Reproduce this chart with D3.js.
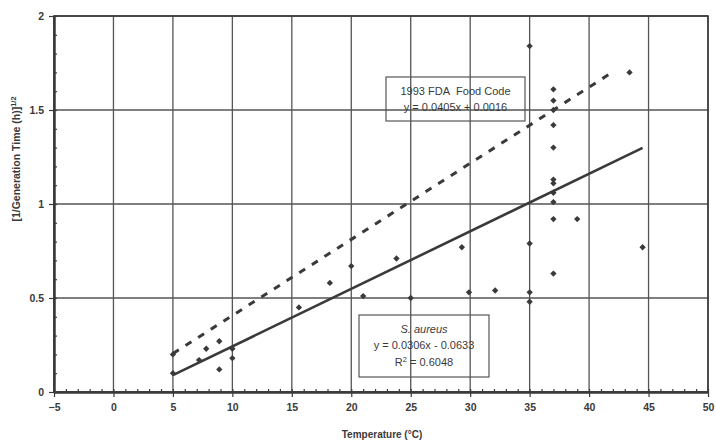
<!DOCTYPE html>
<html>
<head>
<meta charset="utf-8">
<script src="https://cdn.jsdelivr.net/npm/d3@7"></script>
<style>
  html, body { margin: 0; padding: 0; background: #fff; }
  svg { display: block; font-family: "Liberation Sans", Arial, sans-serif; }
</style>
</head>
<body>
<svg id="chart" width="716" height="442"></svg>
<script>
// Growth-rate observations: temperature (°C) vs square root of 1/generation time
const tempC = [5, 5, 7.2, 7.8, 8.9, 8.9, 10, 10, 15.6, 18.2, 20, 21, 23.8, 25, 29.3, 29.9, 32.1,
  35, 35, 35, 35, 37, 37, 37, 37, 37, 37, 37, 37, 37, 37, 37, 39, 43.4, 44.5];
const sqrtRate = [0.20, 0.10, 0.17, 0.23, 0.27, 0.12, 0.23, 0.18, 0.45, 0.58, 0.67, 0.51, 0.71, 0.50, 0.77, 0.53, 0.54,
  1.84, 0.79, 0.53, 0.48, 1.61, 1.55, 1.50, 1.42, 1.30, 1.13, 1.11, 1.06, 1.01, 0.92, 0.63, 0.92, 1.70, 0.77];

// Fitted lines (slope, intercept, x extent)
const fdaFit = { slope: 0.0405, intercept: 0.0016, from: 5, to: 42 };
const aureusFit = { slope: 0.0306, intercept: -0.0633, from: 5, to: 44.5 };

const xTicks = [-5, 0, 5, 10, 15, 20, 25, 30, 35, 40, 45, 50];
const yTicks = [0, 0.5, 1, 1.5, 2];

const svg = d3.select("#chart");
const ink = "#3a3a3a";
const x = d3.scaleLinear().domain([-5, 50]).range([54, 708]);
const y = d3.scaleLinear().domain([0, 2]).range([392, 16]);

// Grid
const grid = svg.append("g").attr("stroke", "#555").attr("stroke-width", 1.3);
grid.selectAll("line.v").data(xTicks).join("line")
  .attr("x1", d => x(d)).attr("x2", d => x(d)).attr("y1", y(0)).attr("y2", y(2));
grid.selectAll("line.h").data(yTicks).join("line")
  .attr("x1", x(-5)).attr("x2", x(50)).attr("y1", d => y(d)).attr("y2", d => y(d));

// Axes: major ticks outside, minor ticks inside
const xAxis = svg.append("g").attr("transform", `translate(0,${y(0)})`)
  .call(d3.axisBottom(x).tickValues(xTicks).tickSize(5).tickSizeOuter(0).tickPadding(7).tickFormat(d3.format("d")));
const xMinor = svg.append("g").attr("transform", `translate(0,${y(0)})`)
  .call(d3.axisTop(x).tickValues(d3.range(-5, 51, 1)).tickSize(3).tickSizeOuter(0).tickFormat(""));
const yAxis = svg.append("g").attr("transform", `translate(${x(-5)},0)`)
  .call(d3.axisLeft(y).tickValues(yTicks).tickSize(5).tickSizeOuter(0).tickPadding(5).tickFormat(d => d3.format("")(d)));
const yMinor = svg.append("g").attr("transform", `translate(${x(-5)},0)`)
  .call(d3.axisRight(y).tickValues(d3.range(0, 2.01, 0.1)).tickSize(3).tickSizeOuter(0).tickFormat(""));

[xAxis, xMinor, yAxis, yMinor].forEach(g => {
  g.select(".domain").attr("stroke", ink).attr("stroke-width", 2);
  g.selectAll(".tick line").attr("stroke", ink).attr("stroke-width", 1.2);
  g.selectAll(".tick text").attr("fill", ink).attr("font-size", 10.5).attr("font-weight", "bold")
    .attr("font-family", "'Liberation Sans', Arial, sans-serif");
});

// Plot frame (top and right)
svg.append("rect").attr("x", x(-5)).attr("y", y(2)).attr("width", x(50) - x(-5)).attr("height", y(0) - y(2))
  .attr("fill", "none").attr("stroke", ink).attr("stroke-width", 1.6);

// Regression lines
const fitLine = f => d3.line().x(d => x(d)).y(d => y(f.slope * d + f.intercept))([f.from, f.to]);
svg.append("path").attr("d", fitLine(fdaFit)).attr("fill", "none").attr("stroke", ink)
  .attr("stroke-width", 3).attr("stroke-dasharray", "7,8");
svg.append("path").attr("d", fitLine(aureusFit)).attr("fill", "none").attr("stroke", ink)
  .attr("stroke-width", 2.6);

// Observations as square diamonds
const marker = d3.symbol().type(d3.symbolSquare).size(20);
svg.append("g").selectAll("path").data(tempC).join("path")
  .attr("d", marker)
  .attr("transform", (d, i) => `translate(${x(d)},${y(sqrtRate[i])}) rotate(45)`)
  .attr("fill", ink);

// Equation boxes (transparent, grid shows through)
function eqBox(bx, by, bw, bh, lines) {
  svg.append("rect").attr("x", bx).attr("y", by).attr("width", bw).attr("height", bh)
    .attr("fill", "none").attr("stroke", "#555").attr("stroke-width", 1.2);
  lines.forEach(l => {
    const t = svg.append("text").attr("x", bx + bw / 2).attr("y", l.y).attr("text-anchor", "middle")
      .attr("font-size", 11).attr("fill", ink);
    l.parts.forEach(p => {
      const s = t.append("tspan").text(p.text);
      if (p.italic) s.attr("font-style", "italic");
      if (p.sup) s.attr("font-size", 7.5).attr("dy", -4);
      if (p.down) s.attr("dy", 4);
    });
  });
}
eqBox(386, 77, 139, 44, [
  { y: 95, parts: [{ text: "1993 FDA\u00a0 Food Code" }] },
  { y: 111, parts: [{ text: `y = ${fdaFit.slope}x + ${fdaFit.intercept}` }] }
]);
eqBox(359, 315, 130, 62, [
  { y: 333, parts: [{ text: "S. aureus", italic: true }] },
  { y: 349, parts: [{ text: `y = ${aureusFit.slope}x - ${Math.abs(aureusFit.intercept)}` }] },
  { y: 366, parts: [{ text: "R" }, { text: "2", sup: true }, { text: " = 0.6048", down: true }] }
]);

// Axis titles
svg.append("text").attr("x", 382).attr("y", 438).attr("text-anchor", "middle")
  .attr("font-size", 10).attr("font-weight", "bold").attr("fill", ink).text("Temperature (°C)");
const yt = svg.append("text").attr("transform", "translate(20,159) rotate(-90)").attr("text-anchor", "middle")
  .attr("font-size", 10.5).attr("font-weight", "bold").attr("fill", ink);
yt.append("tspan").text("[1/Generation Time (h)]");
yt.append("tspan").text("1/2").attr("font-size", 7.5).attr("dy", -4);
</script>
</body>
</html>
